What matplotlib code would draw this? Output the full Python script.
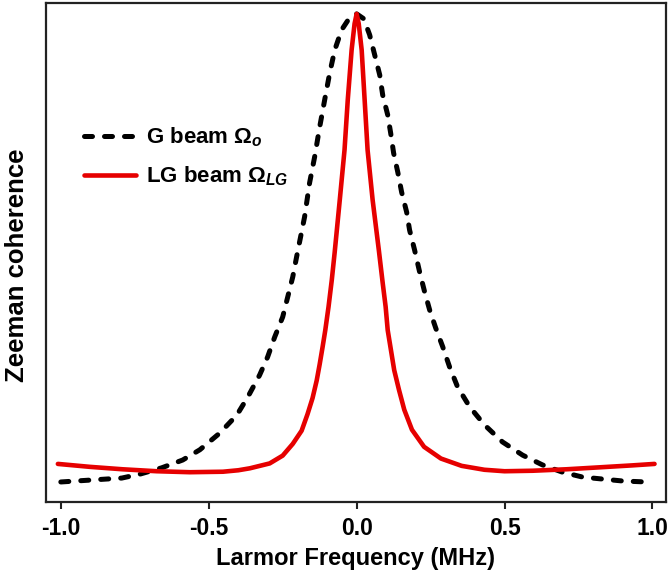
import matplotlib
matplotlib.use("Agg")
import matplotlib.pyplot as plt

plt.rcParams['font.family'] = ['Liberation Sans', 'DejaVu Sans']
plt.rcParams['font.weight'] = 'bold'
plt.rcParams['axes.unicode_minus'] = False
plt.rcParams['mathtext.fontset'] = 'custom'
plt.rcParams['mathtext.rm'] = 'Liberation Sans:bold'
plt.rcParams['mathtext.it'] = 'Liberation Sans:bold:italic'
plt.rcParams['mathtext.bf'] = 'Liberation Sans:bold'

# Gaussian beam (dashed black)
g_freq = [-1.0, -0.794, -0.733, -0.659, -0.588, -0.530, -0.463, -0.405, -0.368,
          -0.328, -0.301, -0.277, -0.250, -0.233, -0.216, -0.203, -0.176, -0.159,
          -0.142, -0.125, -0.108, -0.091, -0.074, -0.051, -0.024, 0.0,
          0.024, 0.044, 0.061, 0.078, 0.088, 0.105, 0.115, 0.125, 0.139, 0.152,
          0.169, 0.179, 0.196, 0.213, 0.230, 0.247, 0.267, 0.291, 0.314, 0.341,
          0.382, 0.432, 0.493, 0.561, 0.628, 0.696, 0.764, 0.831, 0.899, 0.98]
g_coh = [0.041, 0.049, 0.057, 0.070, 0.086, 0.107, 0.141, 0.178, 0.215,
         0.260, 0.297, 0.338, 0.379, 0.420, 0.461, 0.502, 0.584, 0.654,
         0.707, 0.768, 0.824, 0.879, 0.926, 0.967, 0.992, 1.0,
         0.990, 0.957, 0.916, 0.875, 0.834, 0.793, 0.756, 0.715, 0.676, 0.635,
         0.594, 0.557, 0.516, 0.471, 0.430, 0.393, 0.357, 0.318, 0.277, 0.236,
         0.195, 0.158, 0.123, 0.096, 0.076, 0.061, 0.051, 0.047, 0.043, 0.041]

# Laguerre-Gaussian beam (solid red)
lg_freq = [-1.01, -0.902, -0.791, -0.676, -0.564, -0.452, -0.400, -0.361, -0.294,
           -0.250, -0.216, -0.186, -0.166, -0.149, -0.135, -0.125, -0.115, -0.106,
           -0.095, -0.084, -0.074, -0.057, -0.041, -0.030, -0.017, -0.007, 0.0,
           0.007, 0.017, 0.027, 0.037, 0.054, 0.075, 0.088, 0.098, 0.105, 0.116,
           0.127, 0.143, 0.161, 0.187, 0.228, 0.285, 0.355, 0.432, 0.500, 0.595,
           0.709, 0.821, 0.932, 1.007]
lg_coh = [0.078, 0.072, 0.067, 0.063, 0.061, 0.062, 0.065, 0.069, 0.079,
          0.095, 0.119, 0.146, 0.180, 0.213, 0.249, 0.282, 0.318, 0.352,
          0.400, 0.455, 0.513, 0.619, 0.721, 0.824, 0.926, 0.980, 1.0,
          0.980, 0.926, 0.824, 0.721, 0.619, 0.516, 0.449, 0.400, 0.352, 0.311,
          0.270, 0.230, 0.189, 0.148, 0.113, 0.089, 0.074, 0.066, 0.063, 0.064,
          0.067, 0.071, 0.075, 0.078]

xticks = [-1.0, -0.5, 0.0, 0.5, 1.0]

fig = plt.figure(figsize=(6.7, 5.81), dpi=100)
ax = fig.add_axes([0.0687, 0.136, 0.925, 0.859])

ax.plot(g_freq, g_coh, color='black', lw=3.6, dashes=(1.6, 2.4),
        dash_capstyle='round', solid_joinstyle='round',
        label=r'G beam $\Omega_{o}$', zorder=2)
ax.plot(lg_freq, lg_coh, color='#e60000', lw=3.3, solid_capstyle='round',
        solid_joinstyle='round', label=r'LG beam $\Omega_{LG}$', zorder=3)

ax.set_xlim(-1.05, 1.045)
ax.set_ylim(0, 1.0225)
ax.set_xticks(xticks)
ax.set_xticklabels([f'{t:.1f}' for t in xticks])
ax.set_yticks([])
ax.tick_params(axis='x', direction='out', length=5, width=1.5, labelsize=16.5,
               pad=6, color='#222222')
for s in ax.spines.values():
    s.set_linewidth(1.6)
    s.set_color('#222222')

ax.set_xlabel('Larmor Frequency (MHz)', fontsize=17, fontweight='bold', labelpad=5)
ax.set_ylabel('Zeeman coherence', fontsize=18.5, fontweight='bold')
ax.yaxis.set_label_coords(-0.027, 0.475)

ax.legend(loc='upper left', bbox_to_anchor=(0.047, 0.772), frameon=False,
          fontsize=16, handlelength=2.35, handletextpad=0.45, labelspacing=0.68,
          borderaxespad=0)

fig.savefig('out.png', dpi=100)
